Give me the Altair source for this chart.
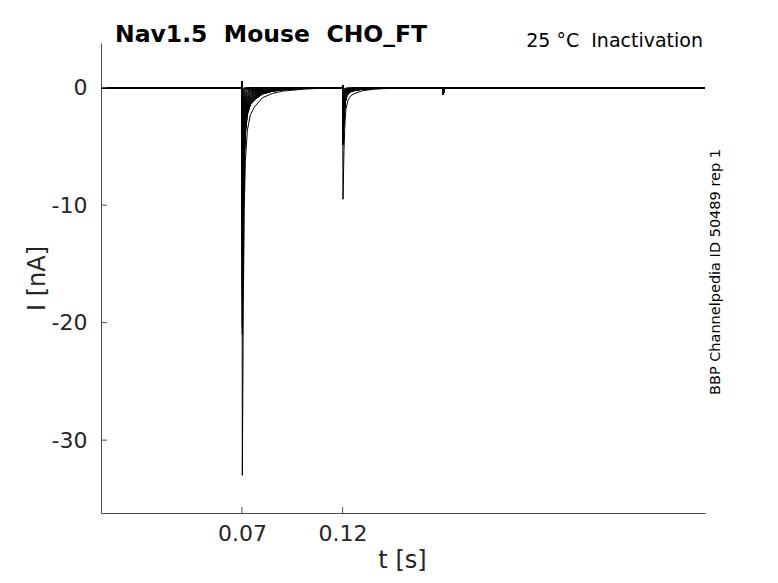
import altair as alt
import pandas as pd

# ---------------- data ----------------
T_DOMAIN = [0.0, 0.3]
I_DOMAIN = [-36.2, 3.8]
X_TICKS = [0.07, 0.12]
Y_TICKS = [0, -10, -20, -30]

T_START = 0.0
T_PULSE1 = 0.07
T_PULSE2 = 0.12
T_PULSE_END = 0.17
T_END = 0.3

# peak inward current of each sweep at the two steps (nA)
PEAK1 = [-0.1, -0.2, -0.3, -0.5, -0.7, -1.0, -1.5, -2.0, -2.7, -3.5, -4.2, -5.0,
         -6.0, -7.0, -8.0, -9.0, -10.0, -11.0, -12.0, -13.0, -14.0, -15.0,
         -16.0, -17.0, -18.0, -19.0, -20.0, -20.5, -21.0, -33.0]
PEAK2 = [-9.5, -4.9, -4.8, -4.7, -4.6, -4.5, -4.4, -4.3, -4.2, -4.1, -4.0, -3.8,
         -3.6, -3.4, -3.2, -3.0, -2.8, -2.6, -2.4, -2.2, -2.0, -1.8,
         -1.6, -1.4, -1.2, -1.0, -0.8, -0.6, -0.4, -0.2]

# decay after each step: time after onset (s) and fraction of the peak
DECAY_DT = [0.0, 0.0005, 0.001, 0.0015, 0.0025, 0.004, 0.006, 0.01, 0.015, 0.02, 0.03, 0.045]
DECAY_FRAC = [1.0, 0.55, 0.30, 0.19, 0.11, 0.07, 0.05, 0.026, 0.015, 0.009, 0.004, 0.0]

# small transients at the step edges (nA)
CAP1 = 0.5
CAP2 = 0.2
TAIL = -0.6

TITLE = "Nav1.5\u00a0\u00a0Mouse\u00a0\u00a0CHO_FT"
NOTE = "25 °C\u00a0\u00a0Inactivation"
SIDE = "BBP Channelpedia ID 50489 rep 1"

# ---------------- table ----------------
rows = []
for s, (p1, p2) in enumerate(zip(PEAK1, PEAK2)):
    pts = [(T_START, 0.0), (T_PULSE1 - 0.0001, 0.0), (T_PULSE1, CAP1)]
    for dt, f in zip(DECAY_DT, DECAY_FRAC):
        pts.append((T_PULSE1 + 0.0002 + dt, p1 * f))
    pts += [(T_PULSE2 - 0.0001, 0.0), (T_PULSE2, CAP2)]
    for dt, f in zip(DECAY_DT, DECAY_FRAC):
        pts.append((T_PULSE2 + 0.0002 + dt, p2 * f))
    pts += [(T_PULSE_END - 0.0001, 0.0), (T_PULSE_END, TAIL),
            (T_PULSE_END + 0.0006, 0.0), (T_END, 0.0)]
    for k, (t, i) in enumerate(pts):
        rows.append({"sweep": s, "k": k, "t": t, "I": i})
df = pd.DataFrame(rows)

xticks_df = pd.DataFrame({"t": X_TICKS})
yticks_df = pd.DataFrame({"I": Y_TICKS})

W, H = 604, 470
FONT = "DejaVu Sans"

x_scale = alt.Scale(domain=T_DOMAIN, nice=False, zero=False)
y_scale = alt.Scale(domain=I_DOMAIN, nice=False, zero=False)

lines = alt.Chart(df).mark_line(color="black", strokeWidth=1, clip=True).encode(
    x=alt.X("t:Q", scale=x_scale, title="t [s]",
            axis=alt.Axis(values=X_TICKS, labelExpr="datum.value", ticks=False,
                          grid=False, domainColor="#4d4d4d", labelFontSize=22,
                          labelColor="#262626", labelFont=FONT, labelPadding=10,
                          titleFont=FONT, titleFontSize=24, titleFontWeight="normal",
                          titleColor="#262626", titlePadding=4, titleX=301)),
    y=alt.Y("I:Q", scale=y_scale, title="I [nA]",
            axis=alt.Axis(values=Y_TICKS, labelExpr="datum.value", ticks=False,
                          grid=False, domainColor="#4d4d4d", labelFontSize=22,
                          labelColor="#262626", labelFont=FONT, labelPadding=14,
                          titleFont=FONT, titleFontSize=24, titleFontWeight="normal",
                          titleColor="#262626", titlePadding=2)),
    detail="sweep:N",
    order="k:Q",
)

xtick_marks = alt.Chart(xticks_df).mark_rule(color="#4d4d4d", strokeWidth=1).encode(
    x=alt.X("t:Q", scale=x_scale), y=alt.value(H), y2=alt.value(H - 6)
)
ytick_marks = alt.Chart(yticks_df).mark_rule(color="#4d4d4d", strokeWidth=1).encode(
    y=alt.Y("I:Q", scale=y_scale), x=alt.value(0), x2=alt.value(6)
)

title_mark = alt.Chart(pd.DataFrame({"txt": [TITLE]})).mark_text(
    font=FONT, fontSize=23.5, fontWeight="bold", align="left",
    baseline="alphabetic", color="black"
).encode(text="txt:N", x=alt.value(14), y=alt.value(-1))

note_right = alt.Chart(pd.DataFrame({"txt": [NOTE]})).mark_text(
    font=FONT, fontSize=19, align="right", baseline="alphabetic", color="black"
).encode(text="txt:N", x=alt.value(602), y=alt.value(4))

note_side = alt.Chart(pd.DataFrame({"txt": [SIDE]})).mark_text(
    font=FONT, fontSize=14.5, align="center", baseline="middle", angle=270, color="black"
).encode(text="txt:N", x=alt.value(615), y=alt.value(229))

chart = alt.layer(lines, xtick_marks, ytick_marks, title_mark, note_right, note_side).properties(
    width=W, height=H,
    background="white",
    autosize=alt.AutoSizeParams(type="none"),
    padding={"left": 93, "top": 35, "right": 65, "bottom": 62},
).configure_view(stroke=None, strokeWidth=0)

chart.save("out.html", embed_options={"renderer": "svg", "actions": False})
